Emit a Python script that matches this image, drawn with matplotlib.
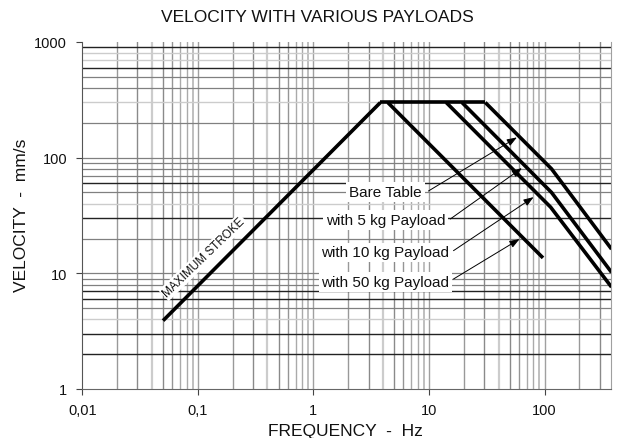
import matplotlib
matplotlib.use("Agg")
import matplotlib.pyplot as plt

plt.rcParams['font.family'] = ['Liberation Sans', 'DejaVu Sans']

# ---- data ----
stroke_f = [0.05, 3.8]
stroke_v = [3.9, 300]
flat_f = [3.8, 30.7]
flat_v = [300, 300]
bare_f = [30.7, 115, 380]
bare_v = [300, 80, 16.2]
kg5_f = [19.3, 115, 380]
kg5_v = [300, 50, 10.2]
kg10_f = [14.1, 113, 380]
kg10_v = [300, 37.3, 7.6]
kg50_f = [4.4, 97]
kg50_v = [300, 13.6]

x_ticks = [0.01, 0.1, 1, 10, 100]
x_ticklabels = ["0,01", "0,1", "1", "10", "100"]
y_ticks = [1, 10, 100, 1000]
y_ticklabels = ["1", "10", "100", "1000"]

labels = ["Bare Table", "with 5 kg Payload", "with 10 kg Payload", "with 50 kg Payload"]
label_pos = [(4.2, 50.5), (4.2, 28.8), (4.2, 15.2), (4.2, 8.45)]
arrow_tail = [(9.9, 51.5), (15.3, 29.5), (16.3, 15.7), (16.3, 8.93)]
arrow_head = [(57.7, 149.7), (63.7, 81.3), (80.4, 45.6), (60.8, 19.8)]

fig = plt.figure(figsize=(6.26, 4.39), dpi=100)
ax = fig.add_axes([82.3/626, 1-390/439, (611-82.3)/626, (390-43)/439])
ax.set_xscale('log')
ax.set_yscale('log')
ax.set_xlim(0.01, 376)
ax.set_ylim(1, 1000)

# ---- grid ----
v_style = {1: ('#a0a0a0', 1.0), 2: ('#999999', 1.0), 3: ('#8a8a8a', 1.0), 4: ('#cccccc', 1.6),
           5: ('#8a8a8a', 1.0), 6: ('#959595', 1.0), 7: ('#aaaaaa', 1.0), 8: ('#aaaaaa', 1.0),
           9: ('#b4b4b4', 1.2)}
for d in [0.01, 0.1, 1, 10, 100]:
    for m in range(1, 10):
        x = d * m
        if 0.01 < x < 376:
            c, lw = v_style[m]
            ax.axvline(x, color=c, lw=lw, zorder=1)

dark_h = [900, 600, 60, 30, 7, 6, 3, 2]
light_h = [300, 40, 4, 800, 700]
for d in [1, 10, 100]:
    for m in range(2, 10):
        y = d * m
        if y in dark_h:
            c, lw = '#222222', 1.0
        elif y in light_h:
            c, lw = '#cccccc', 1.0
        else:
            c, lw = '#808080', 0.9
        ax.axhline(y, color=c, lw=lw, zorder=1)
for y in [10, 100]:
    ax.axhline(y, color='#808080', lw=0.9, zorder=1)

# ---- curves ----
lw = 2.6
for f, v in [(stroke_f, stroke_v), (flat_f, flat_v), (bare_f, bare_v),
             (kg5_f, kg5_v), (kg10_f, kg10_v), (kg50_f, kg50_v)]:
    ax.plot(f, v, color='black', lw=lw, solid_capstyle='butt', solid_joinstyle='miter', zorder=4)

# ---- annotations ----
for txt, (lx, ly), tail, head in zip(labels, label_pos, arrow_tail, arrow_head):
    ax.text(lx, ly, txt, ha='center', va='center', fontsize=11, color='#111111',
            bbox=dict(facecolor='white', edgecolor='none', pad=2.0), zorder=5)
    ax.annotate('', xy=head, xytext=tail,
                arrowprops=dict(arrowstyle='-|>,head_length=0.6,head_width=0.22', color='black', lw=0.7,
                                mutation_scale=10, shrinkA=0, shrinkB=0), zorder=6)

ax.text(0.112, 13.8, "MAXIMUM STROKE", rotation=44, ha='center', va='center',
        fontsize=8.5, color='#111111', rotation_mode='anchor',
        bbox=dict(facecolor='white', edgecolor='none', pad=1.0), zorder=5)

# ---- axes styling ----
ax.set_xticks(x_ticks)
ax.set_xticklabels(x_ticklabels)
ax.set_yticks(y_ticks)
ax.set_yticklabels(y_ticklabels)
ax.minorticks_off()
ax.tick_params(axis='both', which='major', labelsize=10.5, colors='#444444',
               labelcolor='#111111', length=4, width=0.8)
ax.tick_params(axis='x', pad=6)
ax.tick_params(axis='y', pad=7)
ax.spines['top'].set_visible(False)
ax.spines['right'].set_color('#a0a0a0')
ax.spines['left'].set_color('#555555')
ax.spines['bottom'].set_color('#666666')

fig.text(317/626, 1-18/439, "VELOCITY WITH VARIOUS PAYLOADS", ha='center', va='center',
         fontsize=12.5, color='#111111')
fig.text(345/626, 1-432/439, "FREQUENCY  -  Hz", ha='center', va='center',
         fontsize=12.5, color='#111111')
fig.text(22/626, 1-215/439, "VELOCITY  -  mm/s", ha='center', va='center',
         rotation=90, fontsize=12.5, color='#111111')

fig.savefig("out.png", dpi=100, facecolor='white')
